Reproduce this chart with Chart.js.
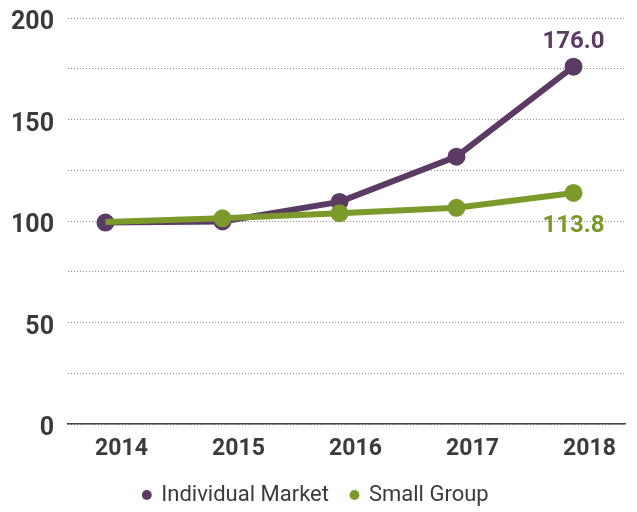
<!DOCTYPE html>
<html lang="en">
<head>
<meta charset="utf-8">
<title>Individual Market vs Small Group</title>
<script src="https://cdn.jsdelivr.net/npm/chart.js@4/dist/chart.umd.min.js"></script>
<style>
  html, body { margin: 0; padding: 0; background: #fff; }
  #wrap { width: 637px; height: 512px; position: relative; }
</style>
</head>
<body>
<div id="wrap"><canvas id="chart"></canvas></div>
<script>
/* ------------------------------------------------------------
   Data
   ------------------------------------------------------------ */
const YEARS = [2014, 2015, 2016, 2017, 2018];
const INDIVIDUAL = [99.2, 99.8, 109.4, 131.7, 176.0];
const SMALL_GROUP = [99.5, 101.3, 103.8, 106.5, 113.8];
const SERIES_NAMES = ["Individual Market", "Small Group"];
const Y_LABELS = [0, 50, 100, 150, 200];

const PURPLE = "#5b3a64";
const GREEN = "#7b9a2b";
const TEXT = "#3b3b3b";
const FONT = "Roboto, sans-serif";

// Label for the last point of each series (offset in px from the point)
const ENDS = [{ dy: -25 }, { dy: 33 }];

const endLabels = {
  id: "endLabels",
  afterDatasetsDraw(chart) {
    const ctx = chart.ctx;
    ctx.save();
    ctx.font = `bold 24px ${FONT}`;
    ctx.textAlign = "center";
    ctx.textBaseline = "middle";
    chart.data.datasets.forEach((ds, i) => {
      const meta = chart.getDatasetMeta(i);
      const pt = meta.data[meta.data.length - 1];
      const v = ds.data[ds.data.length - 1].y;
      ctx.fillStyle = ds.borderColor;
      ctx.fillText(v.toFixed(1), pt.x, pt.y + ENDS[i].dy);
    });
    ctx.restore();
  },
};

const toPoints = (vals) => vals.map((v, i) => ({ x: YEARS[i], y: v }));

new Chart(document.getElementById("chart"), {
  type: "line",
  data: {
    datasets: [
      {
        label: SERIES_NAMES[0],
        data: toPoints(INDIVIDUAL),
        borderColor: PURPLE,
        backgroundColor: PURPLE,
        pointBackgroundColor: PURPLE,
        borderWidth: 6,
        order: 1,
      },
      {
        label: SERIES_NAMES[1],
        data: toPoints(SMALL_GROUP),
        borderColor: GREEN,
        backgroundColor: GREEN,
        pointBackgroundColor: GREEN,
        borderWidth: 6,
        // first point sits under the purple one
        pointRadius: [0, 6, 6, 6, 6],
        order: 0,
      },
    ],
  },
  options: {
    responsive: true,
    maintainAspectRatio: false,
    animation: false,
    events: [],
    layout: { padding: { top: 18, right: 5, bottom: -4, left: 0 } },
    elements: {
      line: { tension: 0 },
      point: { radius: 6, borderWidth: 2, borderColor: "#fff" },
    },
    plugins: {
      tooltip: { enabled: false },
      legend: {
        position: "bottom",
        labels: {
          usePointStyle: true,
          pointStyle: "circle",
          boxHeight: 7,
          boxWidth: 7,
          padding: 22,
          color: TEXT,
          font: { family: FONT, size: 22 },
          sort: (a, b) => a.datasetIndex - b.datasetIndex,
          generateLabels: (chart) =>
            Chart.defaults.plugins.legend.labels.generateLabels(chart).map((it) => {
              it.strokeStyle = it.fillStyle;
              it.lineWidth = 0;
              return it;
            }),
        },
      },
    },
    scales: {
      x: {
        type: "linear",
        min: 2013.68,
        max: 2018.44,
        afterBuildTicks: (s) => { s.ticks = YEARS.map((y) => ({ value: y })); },
        afterFit: (s) => { s.height = 38; },
        grid: { display: false, drawTicks: false },
        border: { display: true, color: "#444", width: 1.5 },
        ticks: {
          padding: 11,
          labelOffset: 16,
          color: TEXT,
          font: { family: FONT, size: 23, weight: "bold" },
          callback: (v) => String(v),
        },
      },
      y: {
        min: 0,
        max: 200,
        afterFit: (s) => { s.width = 68; s.paddingTop = 0; s.paddingBottom = 0; },
        grid: { color: "#8a8a8a", lineWidth: 1, drawTicks: false },
        border: { display: false, dash: [1, 2] },
        ticks: {
          stepSize: 25,
          padding: 14,
          labelOffset: 5,
          color: TEXT,
          font: { family: FONT, size: 25, weight: "bold" },
          callback: (v) => (Y_LABELS.includes(v) ? String(v) : ""),
        },
      },
    },
  },
  plugins: [endLabels],
});
</script>
</body>
</html>
